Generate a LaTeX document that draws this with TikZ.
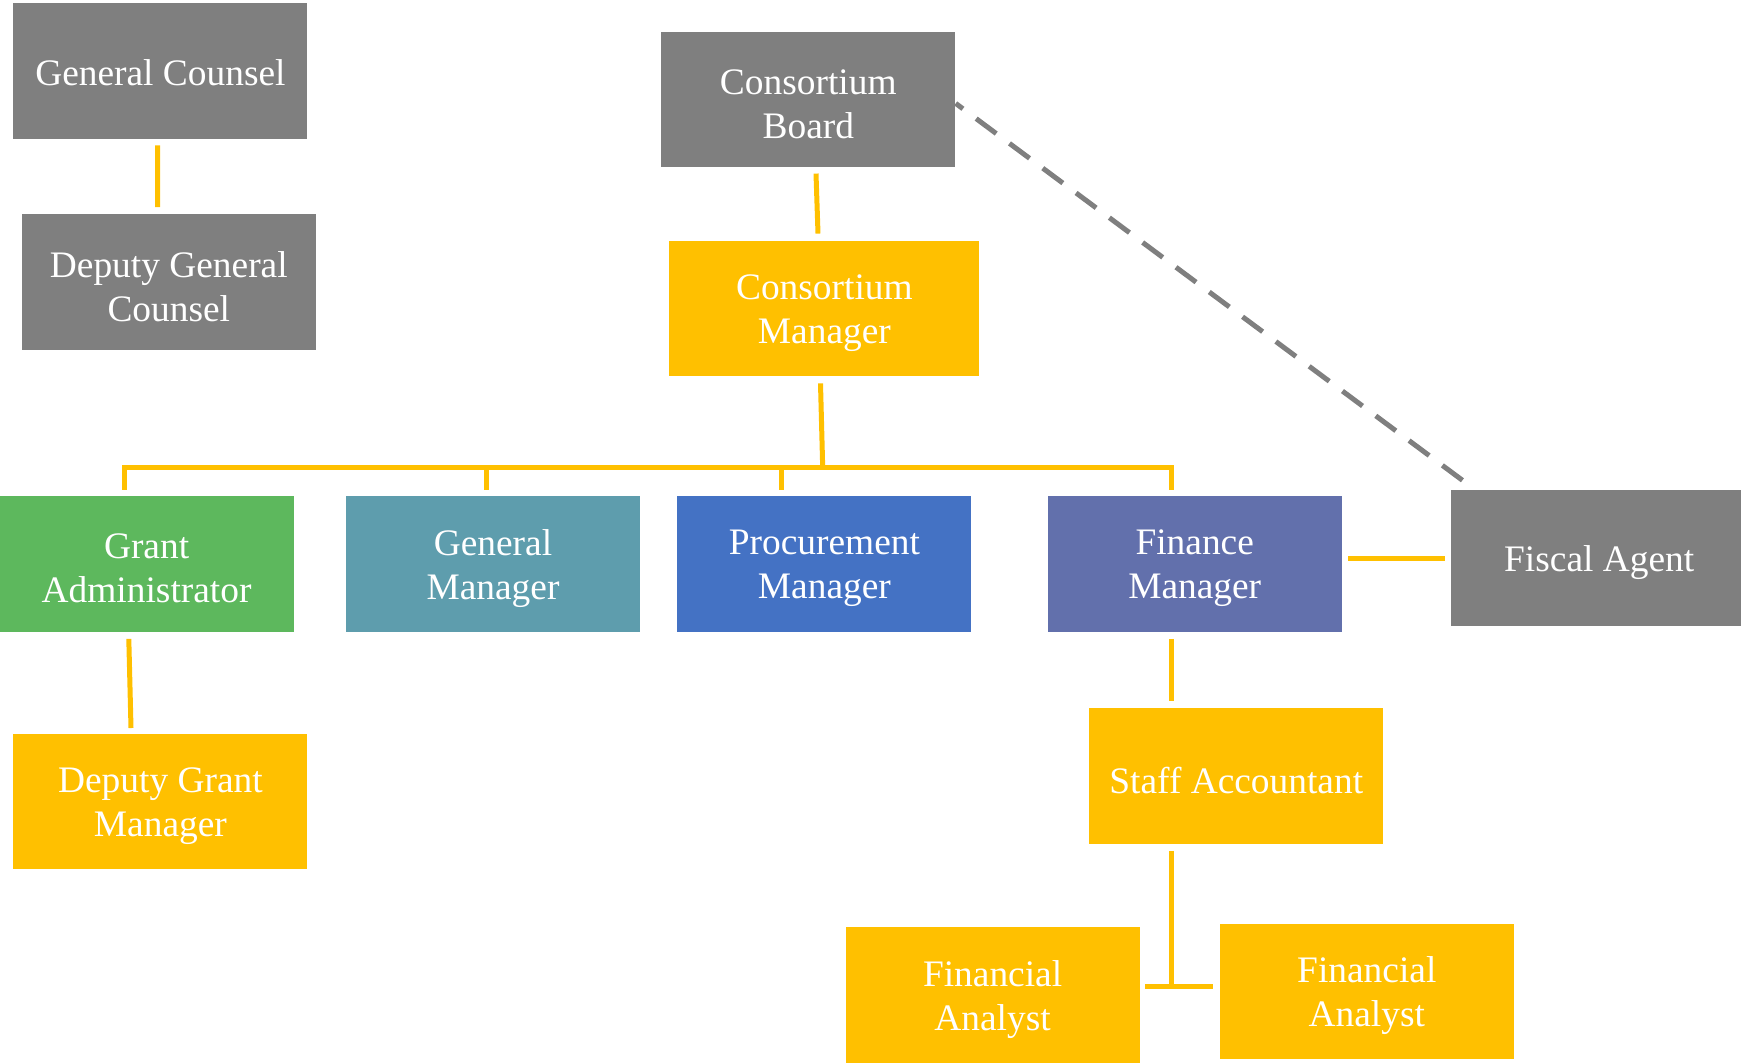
\documentclass[tikz,border=0pt]{standalone}
\usepackage{fontspec}
\setmainfont{Liberation Serif}
\usetikzlibrary{calc}
\definecolor{boxgray}{HTML}{7F7F7F}
\definecolor{boxyellow}{HTML}{FFC000}
\definecolor{boxgreen}{HTML}{5DB85D}
\definecolor{boxteal}{HTML}{5E9DAD}
\definecolor{boxblue}{HTML}{4472C4}
\definecolor{boxpurple}{HTML}{6270AC}
\begin{document}
\begin{tikzpicture}[x=0.5pt,y=-0.5pt,
  box/.style={rectangle, minimum width=147pt, minimum height=67.75pt, inner sep=0pt},
  lbl/.style={align=center, text=white, inner sep=0pt, yshift=-2.2pt,
    font=\fontsize{18.7}{22}\selectfont},
  link/.style={draw=boxyellow, line width=2.5pt},
  dashlink/.style={draw=boxgray, line width=2.5pt, dash pattern=on 12.5pt off 8.25pt, dash phase=8pt},
]
\useasboundingbox (0,0) rectangle (1741,1062);

\node[box, fill=boxgray, label={[lbl, yshift=1.6pt]center:{General Counsel}}] (gc) at (160.4,71.1) {};
\node[box, fill=boxgray, label={[lbl]center:{Deputy General\\Counsel}}] (dgc) at (168.8,282.0) {};
\node[box, fill=boxgray, label={[lbl]center:{Consortium\\Board}}] (cb) at (808.3,99.4) {};
\node[box, fill=boxyellow, minimum width=155pt, label={[lbl]center:{Consortium\\Manager}}] (cm) at (824.4,308.7) {};
\node[box, fill=boxgreen, label={[lbl]center:{Grant\\Administrator}}] (ga) at (146.6,564) {};
\node[box, fill=boxteal, label={[lbl]center:{General\\Manager}}] (gm) at (493,564) {};
\node[box, fill=boxblue, label={[lbl]center:{Procurement\\Manager}}] (pm) at (824.4,564) {};
\node[box, fill=boxpurple, label={[lbl]center:{Finance\\Manager}}] (fm) at (1194.7,564) {};
\node[box, fill=boxgray, minimum width=145pt, label={[lbl, xshift=1.6pt]center:{Fiscal Agent}}] (fa) at (1596,558) {};
\node[box, fill=boxyellow, label={[lbl]center:{Deputy Grant\\Manager}}] (dgm) at (160.4,801.6) {};
\node[box, fill=boxyellow, label={[lbl]center:{Staff Accountant}}] (sa) at (1236.3,776.1) {};
\node[box, fill=boxyellow, label={[lbl]center:{Financial\\Analyst}}] (fan1) at (992.6,994.8) {};
\node[box, fill=boxyellow, label={[lbl]center:{Financial\\Analyst}}] (fan2) at (1366.8,991.5) {};

\coordinate (hub) at ($(cm.south)+(-1.7,91)$);

% General Counsel -> Deputy
\draw[link] ($(gc.south)+(-2.7,6)$) -- ($(dgc.north)+(-11.1,-6.65)$);
% Board -> Manager
\draw[link] ($(cb.south)+(7.7,6)$) -- ($(cm.north)+(-6.4,-7)$);
% Manager -> bar
\draw[link] ($(cm.south)+(-3.9,6.5)$) -- (hub);
\draw[link] ($(ga.north)+(-22.2,-6)$) |- ($(fm.north)+(-23.3,-28.85)$) -- ($(fm.north)+(-23.3,-6)$);
\draw[link] ($(gm.north)+(-6.7,-6)$) -- ($(gm.north)+(-6.7,-28.85)$);
\draw[link] ($(pm.north)+(-42.7,-6)$) -- ($(pm.north)+(-42.7,-28.85)$);
% Grant Administrator -> Deputy Grant Manager
\draw[link] ($(ga.south)+(-17.8,6.65)$) -- ($(dgm.north)+(-29.4,-5.45)$);
% Finance Manager -> Fiscal Agent
\draw[link] ($(fm.east)+(6.3,-5.5)$) -- ($(fa.west)+(-5.4,0.5)$);
% Finance Manager -> Staff Accountant
\draw[link] ($(fm.south)+(-23.3,6.65)$) -- ($(sa.north)+(-64.9,-6.65)$);
% Staff Accountant -> analysts
\draw[link] ($(sa.south)+(-64.9,6.65)$) -- ($(sa.south)+(-64.9,143.4)$);
\draw[link] ($(fan1.east)+(5.1,-8.8)$) -- ($(fan2.west)+(-6.2,-5.5)$);
% Board - - Fiscal Agent
\draw[dashlink] ($(cb.east)+(0,4)$) -- ($(fa.north west)+(22,-2)$);
\end{tikzpicture}
\end{document}
